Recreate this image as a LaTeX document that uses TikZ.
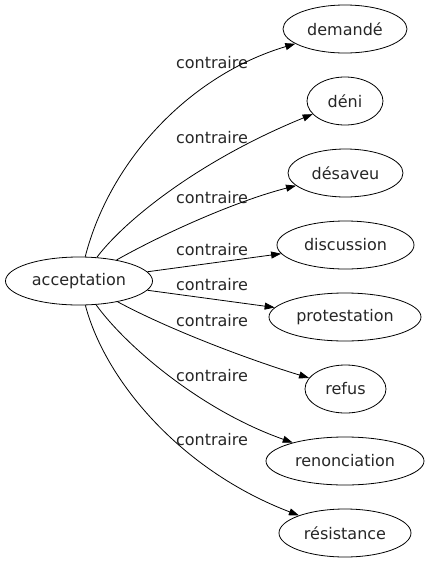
\documentclass[tikz,border=0pt]{standalone}
\usepackage{fontspec}
\setmainfont{DejaVu Sans}
\usetikzlibrary{shapes.geometric,arrows.meta}
\begin{document}
\begin{tikzpicture}[x=1pt,y=-1pt,
  every node/.style={font=\fontsize{16}{19}\selectfont, text=black!85},
  word/.style={ellipse, draw=black, line width=0.8pt, inner sep=0pt, minimum height=48pt},
  lbl/.style={inner sep=0pt},
  rel/.style={draw=black, line width=0.8pt, -{Triangle[length=10pt,width=7pt]}}]
\useasboundingbox (0,0) rectangle (430,563);
\node[word, minimum width=147pt] (acc) at (79,281) {acceptation};
\node[word, minimum width=124pt] (dem) at (345,29) {demandé};
\node[word, minimum width=76pt] (den) at (345,101) {déni};
\node[word, minimum width=115pt] (des) at (345.5,173) {désaveu};
\node[word, minimum width=137pt] (dis) at (345.5,245) {discussion};
\node[word, minimum width=152pt] (pro) at (345,317) {protestation};
\node[word, minimum width=81pt] (ref) at (345.5,389) {refus};
\node[word, minimum width=158pt] (ren) at (345,461) {renonciation};
\node[word, minimum width=132pt] (res) at (345,533) {résistance};
\node[lbl] (l1) at (212,63) {contraire};
\node[lbl] (l2) at (212,137.5) {contraire};
\node[lbl] (l3) at (212,197.5) {contraire};
\node[lbl] (l4) at (212,250) {contraire};
\node[lbl] (l5) at (212,284.5) {contraire};
\node[lbl] (l6) at (212,321) {contraire};
\node[lbl] (l7) at (212,376) {contraire};
\node[lbl] (l8) at (212,440) {contraire};
\draw[rel] (acc) .. controls (110,160) and (190,75) .. (dem);
\draw[rel] (acc) .. controls (125,220) and (200,160) .. (den);
\draw[rel] (acc) .. controls (170,230) and (240,200) .. (des);
\draw[rel] (acc) -- (dis);
\draw[rel] (acc) -- (pro);
\draw[rel] (acc) .. controls (170,330) and (250,360) .. (ref);
\draw[rel] (acc) .. controls (125,345) and (200,410) .. (ren);
\draw[rel] (acc) .. controls (105,380) and (180,470) .. (res);
\end{tikzpicture}
\end{document}
